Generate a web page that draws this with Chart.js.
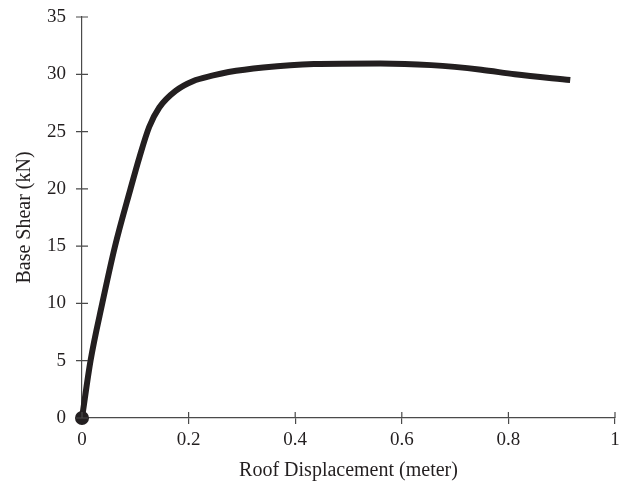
<!DOCTYPE html>
<html lang="en">
<head>
  <meta charset="UTF-8">
  <title>Pushover Curve</title>
  <style>
    html, body { margin: 0; padding: 0; background: white; }
    #wrap { width: 626px; height: 485px; }
  </style>
  <script src="https://cdn.jsdelivr.net/npm/chart.js@4/dist/chart.umd.js"></script>
</head>
<body>
  <div id="wrap"><canvas id="pushover" width="626" height="485"></canvas></div>
  <script>
    // roof displacement (m) vs base shear (kN)
    const displacement = [0, 0.016, 0.038, 0.062, 0.091, 0.108, 0.126, 0.145, 0.177, 0.208, 0.246, 0.275, 0.34, 0.435, 0.56, 0.655, 0.749, 0.812, 0.916];
    const baseShear    = [0, 5.0,   10.0,  15.0,  20.0,  22.8,  25.4,  27.1,  28.6,  29.4,  29.9,  30.2,  30.6, 30.9,  30.95, 30.8, 30.4,  30.0,  29.5];
    const xTickLabels = ['0', '0.2', '0.4', '0.6', '0.8', '1'];
    const yTickLabels = ['0', '5', '10', '15', '20', '25', '30', '35'];

    const ink = '#231f20';
    const axisColor = '#4a4a4a';
    const serif = "'Liberation Serif', 'DejaVu Serif', serif";

    // tick marks that cross the axis line (6px each side)
    const crossTicks = {
      id: 'crossTicks',
      afterDatasetsDraw(chart) {
        const { ctx, scales: { x, y } } = chart;
        ctx.save();
        ctx.strokeStyle = axisColor;
        ctx.lineWidth = 1.2;
        ctx.beginPath();
        x.ticks.forEach(t => {
          const px = x.getPixelForValue(t.value);
          ctx.moveTo(px, x.top);
          ctx.lineTo(px, x.top - 6);
        });
        y.ticks.forEach(t => {
          const py = y.getPixelForValue(t.value);
          ctx.moveTo(y.right - 6, py);
          ctx.lineTo(y.right + 6, py);
        });
        ctx.stroke();
        ctx.restore();
      }
    };

    new Chart(document.getElementById('pushover'), {
      type: 'scatter',
      data: {
        datasets: [{
          data: displacement.map((d, i) => ({ x: d, y: baseShear[i] })),
          showLine: true,
          borderColor: ink,
          backgroundColor: ink,
          borderWidth: 6,
          borderCapStyle: 'butt',
          borderJoinStyle: 'round',
          cubicInterpolationMode: 'monotone',
          pointRadius: ctx => ctx.dataIndex === 0 ? 4 : 0,
          pointHoverRadius: 0,
          clip: false
        }]
      },
      plugins: [crossTicks],
      options: {
        responsive: false,
        animation: false,
        events: [],
        layout: { padding: { top: 17, right: 11, left: 0, bottom: 0 } },
        plugins: { legend: { display: false }, tooltip: { enabled: false } },
        scales: {
          x: {
            type: 'linear',
            min: 0, max: 1,
            afterFit: s => { s.height = 67; },
            afterBuildTicks: s => { s.ticks = xTickLabels.map(v => ({ value: parseFloat(v) })); },
            ticks: {
              color: ink,
              font: { family: serif, size: 19 },
              padding: 5,
              maxRotation: 0,
              callback: (v, i) => xTickLabels[i]
            },
            grid: { drawOnChartArea: false, drawTicks: true, tickLength: 6, color: axisColor, lineWidth: 1.2 },
            border: { display: true, color: axisColor, width: 1.2 },
            title: {
              display: true,
              text: 'Roof Displacement (meter)',
              color: ink,
              font: { family: serif, size: 20 },
              padding: { top: 0, bottom: 2 }
            }
          },
          y: {
            type: 'linear',
            min: 0, max: 35,
            afterFit: s => { s.width = 82; },
            afterBuildTicks: s => { s.ticks = yTickLabels.map(v => ({ value: parseFloat(v) })); },
            ticks: {
              color: ink,
              font: { family: serif, size: 19 },
              padding: 3,
              callback: (v, i) => yTickLabels[i]
            },
            grid: { drawOnChartArea: false, drawTicks: true, tickLength: 13, tickColor: 'rgba(0,0,0,0)' },
            border: { display: true, color: axisColor, width: 1.2 },
            title: {
              display: true,
              text: 'Base Shear (kN)',
              color: ink,
              font: { family: serif, size: 20 },
              padding: { top: 13, bottom: 0 }
            }
          }
        }
      }
    });
  </script>
</body>
</html>
